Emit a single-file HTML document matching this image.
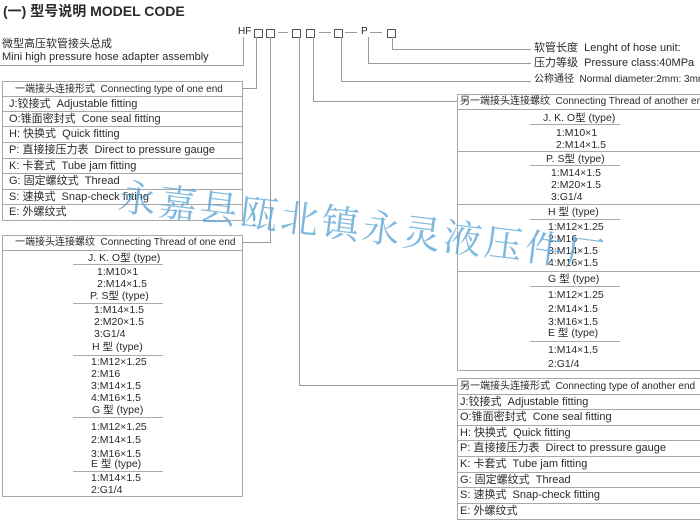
<!DOCTYPE html>
<html><head><meta charset="utf-8"><style>
body{margin:0;width:700px;height:522px;overflow:hidden;background:#fff;position:relative;font-family:"Liberation Sans","Noto Sans CJK SC",sans-serif;color:#2a2a2a}
.t{position:absolute;font-size:11px;line-height:14px;white-space:nowrap}
.l{position:absolute;background:#9a9a9a}
.bx{position:absolute;border:1px solid #a8a8a8;box-sizing:border-box}
.sq{position:absolute;width:7px;height:7px;border:1px solid #555;top:29px}
.row{position:absolute;left:0;right:0;border-top:1px solid #a8a8a8;height:15px;font-size:11px;line-height:15px;padding-left:6px;white-space:nowrap;overflow:hidden}
.h{font-size:10px}
.c{position:absolute;font-size:10.5px;line-height:12px;white-space:nowrap}
.u{position:absolute;height:1px;background:#aaa}
.wm{position:absolute;left:122px;top:166px;font-family:"Noto Serif CJK SC","WenQuanYi Zen Hei",serif;font-size:38px;color:#5fa7d6;opacity:.8;transform:rotate(7deg);transform-origin:0 0;letter-spacing:3px;white-space:nowrap}
</style></head><body>
<div class="t" style="left:3px;top:2px;font-size:14px;line-height:18px;font-weight:bold">(一) 型号说明 MODEL CODE</div>

<div class="t" style="left:238px;top:25px;font-size:10px">HF</div>
<div class="sq" style="left:254px"></div><div class="sq" style="left:266px"></div>
<div class="l" style="left:278px;top:32px;width:10px;height:1px"></div>
<div class="sq" style="left:292px"></div><div class="sq" style="left:306px"></div>
<div class="l" style="left:319px;top:32px;width:12px;height:1px"></div>
<div class="sq" style="left:334px"></div>
<div class="l" style="left:345px;top:32px;width:12px;height:1px"></div>
<div class="t" style="left:361px;top:25px;font-size:10px">P</div>
<div class="l" style="left:370px;top:32px;width:12px;height:1px"></div>
<div class="sq" style="left:387px"></div>

<div class="t" style="left:2px;top:37px">微型高压软管接头总成</div>
<div class="t" style="left:2px;top:50px">Mini high pressure hose adapter assembly</div>
<div class="l" style="left:0;top:65px;width:244px;height:1px"></div>
<div class="l" style="left:243px;top:37px;width:1px;height:29px"></div>

<div class="l" style="left:256px;top:37px;width:1px;height:52px"></div>
<div class="l" style="left:242px;top:88px;width:15px;height:1px"></div>
<div class="l" style="left:270px;top:37px;width:1px;height:206px"></div>
<div class="l" style="left:242px;top:242px;width:29px;height:1px"></div>
<div class="l" style="left:299px;top:37px;width:1px;height:349px"></div>
<div class="l" style="left:299px;top:385px;width:158px;height:1px"></div>
<div class="l" style="left:313px;top:37px;width:1px;height:65px"></div>
<div class="l" style="left:313px;top:101px;width:144px;height:1px"></div>
<div class="l" style="left:341px;top:37px;width:1px;height:45px"></div>
<div class="l" style="left:341px;top:81px;width:190px;height:1px"></div>
<div class="l" style="left:368px;top:37px;width:1px;height:27px"></div>
<div class="l" style="left:368px;top:63px;width:163px;height:1px"></div>
<div class="l" style="left:392px;top:37px;width:1px;height:13px"></div>
<div class="l" style="left:392px;top:49px;width:139px;height:1px"></div>
<div class="t" style="left:534px;top:41px">软管长度&nbsp; Lenght of hose unit:</div>
<div class="t" style="left:534px;top:56px">压力等级&nbsp; Pressure class:40MPa</div>
<div class="t" style="left:534px;top:73px;font-size:10px">公称通径&nbsp; Normal diameter:2mm: 3mm</div>

<div class="bx" style="left:2px;top:81px;width:241px;height:140px;border-top:none">
<div class="row h" style="top:0;padding-left:12px">一端接头连接形式&nbsp; Connecting type of one end</div>
<div class="row" style="top:15px">J:铰接式&nbsp; Adjustable fitting</div>
<div class="row" style="top:30px">O:锥面密封式&nbsp; Cone seal fitting</div>
<div class="row" style="top:45px">H: 快换式&nbsp; Quick fitting</div>
<div class="row" style="top:61px">P: 直接接压力表&nbsp; Direct to pressure gauge</div>
<div class="row" style="top:77px">K: 卡套式&nbsp; Tube jam fitting</div>
<div class="row" style="top:92px">G: 固定螺纹式&nbsp; Thread</div>
<div class="row" style="top:108px">S: 速换式&nbsp; Snap-check fitting</div>
<div class="row" style="top:123px">E: 外螺纹式</div>
</div>

<div class="bx" style="left:2px;top:235px;width:241px;height:262px">
<div class="row h" style="top:-1px;padding-left:12px;border-top:none;border-bottom:1px solid #a8a8a8">一端接头连接螺纹&nbsp; Connecting Thread of one end</div>
</div>
<div class="c" style="left:88px;top:252px">J. K. O型 (type)</div>
<div class="u" style="left:73px;top:264px;width:90px"></div>
<div class="c" style="left:97px;top:266px">1:M10×1</div>
<div class="c" style="left:97px;top:278px">2:M14×1.5</div>
<div class="c" style="left:90px;top:290px">P. S型 (type)</div>
<div class="u" style="left:73px;top:303px;width:90px"></div>
<div class="c" style="left:94px;top:304px">1:M14×1.5</div>
<div class="c" style="left:94px;top:316px">2:M20×1.5</div>
<div class="c" style="left:94px;top:328px">3:G1/4</div>
<div class="c" style="left:92px;top:341px">H 型 (type)</div>
<div class="u" style="left:73px;top:355px;width:90px"></div>
<div class="c" style="left:91px;top:356px">1:M12×1.25</div>
<div class="c" style="left:91px;top:368px">2:M16</div>
<div class="c" style="left:91px;top:380px">3:M14×1.5</div>
<div class="c" style="left:91px;top:392px">4:M16×1.5</div>
<div class="c" style="left:92px;top:404px">G 型 (type)</div>
<div class="u" style="left:73px;top:417px;width:90px"></div>
<div class="c" style="left:91px;top:421px">1:M12×1.25</div>
<div class="c" style="left:91px;top:434px">2:M14×1.5</div>
<div class="c" style="left:91px;top:448px">3:M16×1.5</div>
<div class="c" style="left:91px;top:458px">E 型 (type)</div>
<div class="u" style="left:73px;top:471px;width:90px"></div>
<div class="c" style="left:91px;top:472px">1:M14×1.5</div>
<div class="c" style="left:91px;top:484px">2:G1/4</div>

<div class="bx" style="left:457px;top:94px;width:250px;height:277px">
<div class="row h" style="top:-1px;padding-left:2px;border-top:none;border-bottom:1px solid #a8a8a8">另一端接头连接螺纹&nbsp; Connecting Thread of another end</div>
<div class="row" style="top:56px;height:0"></div>
<div class="row" style="top:109px;height:0"></div>
<div class="row" style="top:176px;height:0"></div>
</div>
<div class="c" style="left:543px;top:112px">J. K. O型 (type)</div>
<div class="u" style="left:530px;top:124px;width:90px"></div>
<div class="c" style="left:556px;top:127px">1:M10×1</div>
<div class="c" style="left:556px;top:139px">2:M14×1.5</div>
<div class="c" style="left:546px;top:153px">P. S型 (type)</div>
<div class="u" style="left:530px;top:165px;width:90px"></div>
<div class="c" style="left:551px;top:167px">1:M14×1.5</div>
<div class="c" style="left:551px;top:179px">2:M20×1.5</div>
<div class="c" style="left:551px;top:191px">3:G1/4</div>
<div class="c" style="left:548px;top:206px">H 型 (type)</div>
<div class="u" style="left:530px;top:219px;width:90px"></div>
<div class="c" style="left:548px;top:221px">1:M12×1.25</div>
<div class="c" style="left:548px;top:233px">2:M16</div>
<div class="c" style="left:548px;top:245px">3:M14×1.5</div>
<div class="c" style="left:548px;top:257px">4:M16×1.5</div>
<div class="c" style="left:548px;top:273px">G 型 (type)</div>
<div class="u" style="left:530px;top:286px;width:90px"></div>
<div class="c" style="left:548px;top:289px">1:M12×1.25</div>
<div class="c" style="left:548px;top:303px">2:M14×1.5</div>
<div class="c" style="left:548px;top:316px">3:M16×1.5</div>
<div class="c" style="left:548px;top:327px">E 型 (type)</div>
<div class="u" style="left:530px;top:341px;width:90px"></div>
<div class="c" style="left:548px;top:344px">1:M14×1.5</div>
<div class="c" style="left:548px;top:358px">2:G1/4</div>

<div class="bx" style="left:457px;top:378px;width:250px;height:142px">
<div class="row h" style="top:-1px;padding-left:2px">另一端接头连接形式&nbsp; Connecting type of another end</div>
<div class="row" style="top:15px;padding-left:2px">J:铰接式&nbsp; Adjustable fitting</div>
<div class="row" style="top:30px;padding-left:2px">O:锥面密封式&nbsp; Cone seal fitting</div>
<div class="row" style="top:46px;padding-left:2px">H: 快换式&nbsp; Quick fitting</div>
<div class="row" style="top:61px;padding-left:2px">P: 直接接压力表&nbsp; Direct to pressure gauge</div>
<div class="row" style="top:77px;padding-left:2px">K: 卡套式&nbsp; Tube jam fitting</div>
<div class="row" style="top:93px;padding-left:2px">G: 固定螺纹式&nbsp; Thread</div>
<div class="row" style="top:108px;padding-left:2px">S: 速换式&nbsp; Snap-check fitting</div>
<div class="row" style="top:124px;padding-left:2px">E: 外螺纹式</div>
</div>

<div class="wm">永嘉县瓯北镇永灵液压件厂</div>
</body></html>
